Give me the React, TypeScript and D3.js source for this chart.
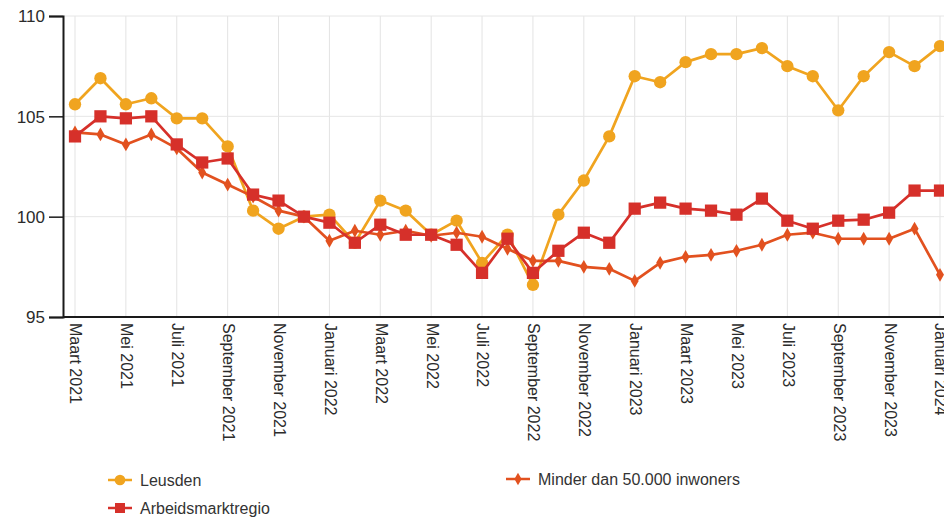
import { useEffect, useRef } from "react";
import * as d3 from "d3";

const months = [
  "Maart 2021", "April 2021", "Mei 2021", "Juni 2021", "Juli 2021", "Augustus 2021",
  "September 2021", "Oktober 2021", "November 2021", "December 2021",
  "Januari 2022", "Februari 2022", "Maart 2022", "April 2022", "Mei 2022", "Juni 2022",
  "Juli 2022", "Augustus 2022", "September 2022", "Oktober 2022", "November 2022", "December 2022",
  "Januari 2023", "Februari 2023", "Maart 2023", "April 2023", "Mei 2023", "Juni 2023",
  "Juli 2023", "Augustus 2023", "September 2023", "Oktober 2023", "November 2023", "December 2023",
  "Januari 2024",
];

const leusden = [
  105.6, 106.9, 105.6, 105.9, 104.9, 104.9, 103.5, 100.3, 99.4, 100.0,
  100.1, 98.7, 100.8, 100.3, 99.1, 99.8, 97.7, 99.1, 96.6, 100.1,
  101.8, 104.0, 107.0, 106.7, 107.7, 108.1, 108.1, 108.4, 107.5, 107.0,
  105.3, 107.0, 108.2, 107.5, 108.5,
];

const regio = [
  104.0, 105.0, 104.9, 105.0, 103.6, 102.7, 102.9, 101.1, 100.8, 100.0,
  99.7, 98.7, 99.6, 99.1, 99.1, 98.6, 97.2, 98.9, 97.2, 98.3,
  99.2, 98.7, 100.4, 100.7, 100.4, 100.3, 100.1, 100.9, 99.8, 99.4,
  99.8, 99.85, 100.2, 101.3, 101.3,
];

const minder = [
  104.2, 104.1, 103.6, 104.1, 103.4, 102.2, 101.6, 101.0, 100.3, 100.0,
  98.8, 99.3, 99.1, 99.3, 99.05, 99.2, 99.0, 98.4, 97.8, 97.8,
  97.5, 97.4, 96.8, 97.7, 98.0, 98.1, 98.3, 98.6, 99.1, 99.2,
  98.9, 98.9, 98.9, 99.4, 97.1,
];

const yTicks = [95, 100, 105, 110];

const COLOR_LEUSDEN = "#f0a41f";
const COLOR_REGIO = "#d6302a";
const COLOR_MINDER = "#e2511f";

export default function App() {
  const svgRef = useRef<SVGSVGElement>(null);

  useEffect(() => {
    document.body.style.margin = "0";
    if (!svgRef.current) return;
    const svg = d3.select(svgRef.current);
    svg.selectAll("*").remove();

    const width = 944;
    const top = 16;
    const bottom = 317;
    const left = 63;

    const x = d3.scaleLinear().domain([0, months.length - 1]).range([75, 940]);
    const y = d3.scaleLinear().domain([95, 110]).range([bottom, top]);
    const font = "Liberation Sans, Arial, sans-serif";

    // grid
    const g = svg.append("g");
    months.forEach((m, i) => {
      if (i % 2 !== 0) return;
      g.append("line")
        .attr("x1", x(i)).attr("x2", x(i))
        .attr("y1", top).attr("y2", bottom)
        .attr("stroke", "#e3e3e3").attr("stroke-width", 1);
    });
    yTicks.forEach((t) => {
      if (t === 95) return;
      g.append("line")
        .attr("x1", left).attr("x2", width)
        .attr("y1", y(t)).attr("y2", y(t))
        .attr("stroke", "#e6e6e6").attr("stroke-width", 1);
    });

    // y axis
    svg.append("g")
      .attr("transform", `translate(${left},0)`)
      .call(d3.axisLeft(y).tickValues(yTicks).tickSize(14).tickPadding(4))
      .call((a) => a.select(".domain").attr("stroke", "#1a1a1a").attr("stroke-width", 2))
      .call((a) => a.selectAll(".tick line").attr("stroke", "#1a1a1a").attr("stroke-width", 1.5))
      .call((a) =>
        a.selectAll(".tick text")
          .attr("fill", "#2b2b2b")
          .attr("font-size", 17)
          .attr("font-family", font)
          .attr("dy", "0.35em")
      );

    // x axis line
    svg.append("line")
      .attr("x1", left).attr("x2", width)
      .attr("y1", bottom).attr("y2", bottom)
      .attr("stroke", "#1a1a1a").attr("stroke-width", 2);

    // x labels, rotated
    months.forEach((m, i) => {
      if (i % 2 !== 0) return;
      svg.append("text")
        .attr("transform", `translate(${x(i) + 1},${bottom + 6}) rotate(90)`)
        .attr("dy", "0.35em")
        .attr("fill", "#2b2b2b")
        .attr("font-size", 16)
        .attr("font-family", font)
        .text(m);
    });

    const line = d3
      .line<number>()
      .x((_, i) => x(i))
      .y((d) => y(d));

    const series = [
      { name: "Minder dan 50.000 inwoners", data: minder, color: COLOR_MINDER, shape: "diamond" },
      { name: "Arbeidsmarktregio", data: regio, color: COLOR_REGIO, shape: "square" },
      { name: "Leusden", data: leusden, color: COLOR_LEUSDEN, shape: "circle" },
    ];

    const symbolFor = (shape: string) =>
      shape === "circle"
        ? d3.symbol(d3.symbolCircle, 120)
        : shape === "square"
        ? d3.symbol(d3.symbolSquare, 150)
        : d3.symbol(d3.symbolDiamond, 55);

    // draw order: leusden bottom, then minder, then regio on top
    const order = [series[2], series[0], series[1]];
    order.forEach((s) => {
      const sg = svg.append("g");
      sg.append("path")
        .datum(s.data)
        .attr("fill", "none")
        .attr("stroke", s.color)
        .attr("stroke-width", 2.7)
        .attr("stroke-linejoin", "round")
        .attr("d", line);
      sg.selectAll("path.pt")
        .data(s.data)
        .enter()
        .append("path")
        .attr("class", "pt")
        .attr("transform", (d, i) => `translate(${x(i)},${y(d)})`)
        .attr("fill", s.color)
        .attr("d", symbolFor(s.shape)());
    });

    // legend
    const legendItems = [
      { s: series[2], lx: 120, ly: 480 },
      { s: series[1], lx: 120, ly: 508 },
      { s: series[0], lx: 518, ly: 479 },
    ];
    legendItems.forEach(({ s, lx, ly }) => {
      const lg = svg.append("g").attr("transform", `translate(${lx},${ly})`);
      lg.append("line")
        .attr("x1", -12).attr("x2", 12)
        .attr("stroke", s.color).attr("stroke-width", 2.5);
      lg.append("path")
        .attr("fill", s.color)
        .attr(
          "d",
          (s.shape === "circle"
            ? d3.symbol(d3.symbolCircle, 90)
            : s.shape === "square"
            ? d3.symbol(d3.symbolSquare, 100)
            : d3.symbol(d3.symbolDiamond, 45))()
        );
      lg.append("text")
        .attr("x", 20)
        .attr("dy", "0.35em")
        .attr("fill", "#333")
        .attr("font-size", 16)
        .attr("font-family", font)
        .text(s.name);
    });
  }, []);

  return <svg ref={svgRef} width={944} height={522} style={{ display: "block", background: "#fff" }} />;
}
